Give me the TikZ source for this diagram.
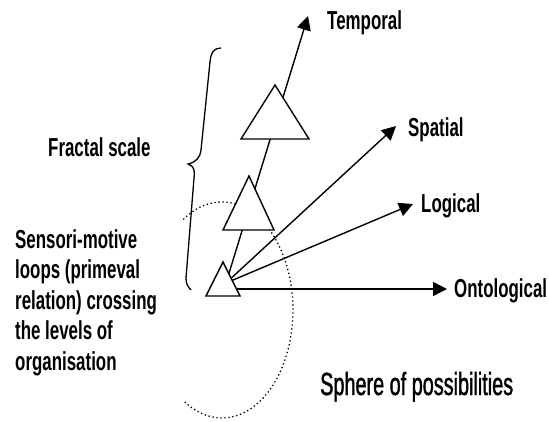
\documentclass[tikz,border=0pt]{standalone}
\usepackage{fontspec}
\newfontfamily\labfont{Liberation Sans}[FakeStretch=0.65]
\newfontfamily\spherefont{Liberation Sans}[FakeStretch=0.62,FakeBold=1.2]
\usetikzlibrary{arrows.meta}
\begin{document}
\begin{tikzpicture}[x=1pt,y=-1pt,
  lab/.style={font=\labfont\bfseries\fontsize{26}{30.5}\selectfont, inner sep=0pt, anchor=base west},
  arr/.style={line width=1.4pt, -{Triangle[length=14pt,width=14pt]}},
  tri/.style={draw, fill=white, line width=1.4pt, line join=miter},
  loopline/.style={line width=1.3pt, dash pattern=on 1.3pt off 2.7pt},
  bracestyle/.style={line width=1.3pt}]
\useasboundingbox (0,0) rectangle (549,421);
\fill[white] (0,0) rectangle (549,421);

% dotted sensori-motive loop
\draw[loopline] (183.3,219.4) arc[start angle=-123, end angle=123, x radius=71, y radius=108];

% curly brace
\draw[bracestyle] (221,48) .. controls (214,48) and (211,52) .. (210,62) -- (201,150)
  .. controls (200,158) and (196,162) .. (188,164)
  .. controls (194,166) and (195,170) .. (194,178) -- (186,278)
  .. controls (186,284) and (188,287) .. (191,290);

% arrows
\coordinate (O) at (226,283);
\coordinate (tT) at (308,16);
\coordinate (tS) at (396,126);
\coordinate (tL) at (413,204);
\coordinate (tO) at (447,289);
\draw[arr] (O) -- (tT);
\draw[arr] (O) -- (tS);
\draw[arr] (O) -- (tL);
\draw[arr] (O |- tO) -- (tO);

% triangles
\draw[tri] (223,262) -- (240,296) -- (206,296) -- cycle;
\draw[tri] (249,176) -- (274,230) -- (223,230) -- cycle;
\draw[tri] (275,85) -- (309,139) -- (241,139) -- cycle;

% labels
\node[lab] (temporal) at (327,29) {Temporal};
\node[lab] (spatial) at (408,136) {Spatial};
\node[lab] (logical) at (421,212) {Logical};
\node[lab] (onto) at (454,297) {Ontological};
\node[lab] (fractal) at (48,156) {Fractal scale};
\node[lab, align=left, anchor=north west] (sensori) at (15,229)
  {Sensori-motive\\loops (primeval\\relation) crossing\\the levels of\\organisation};
\node[font=\spherefont\fontsize{32}{38}\selectfont, inner sep=0pt, anchor=base west] (sphere) at (320,395) {Sphere of possibilities};
\end{tikzpicture}
\end{document}
